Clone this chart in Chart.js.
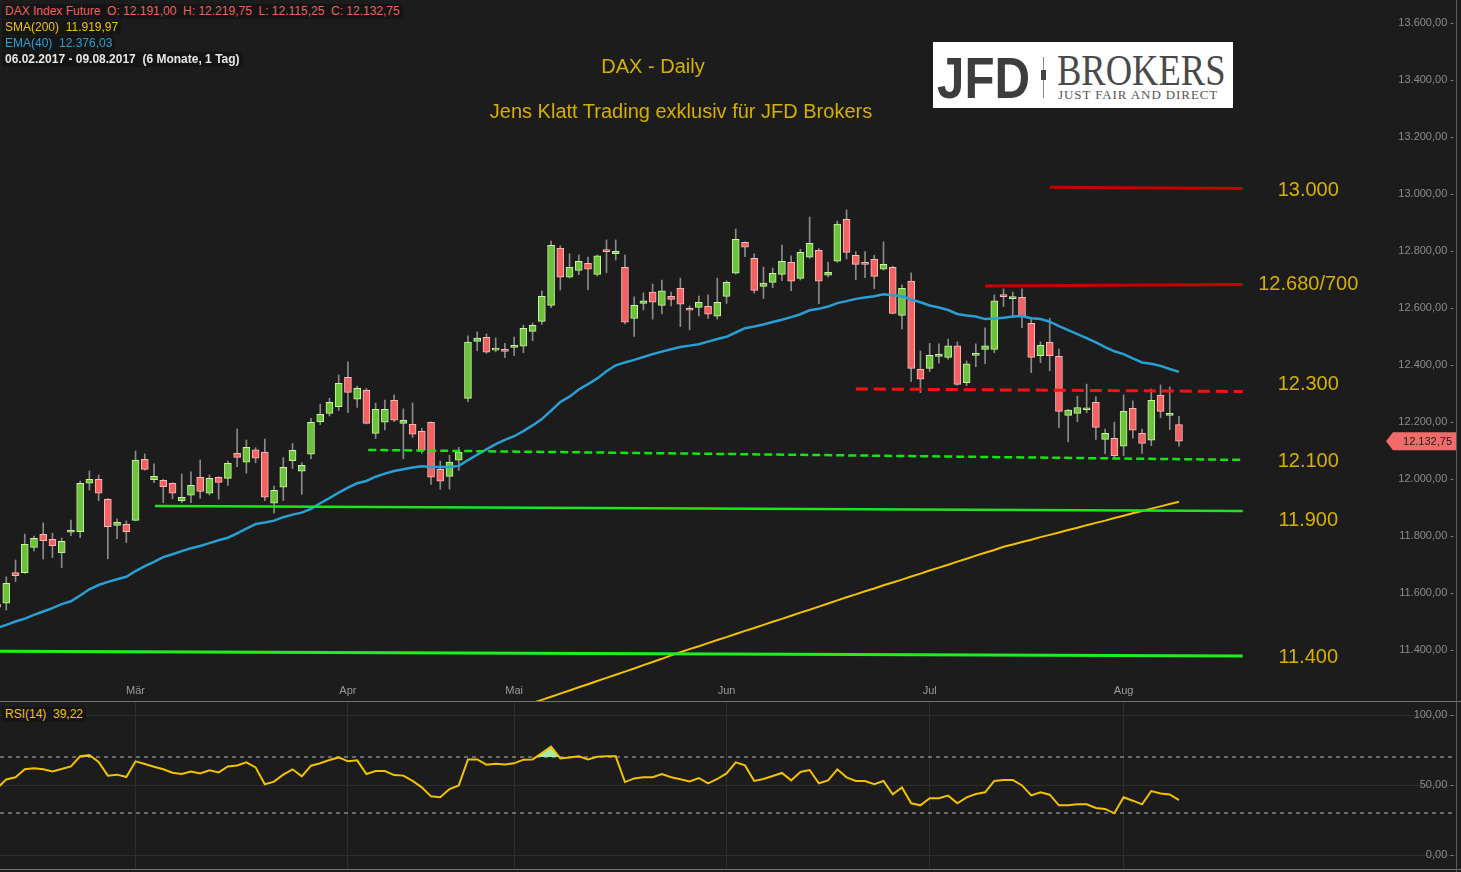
<!DOCTYPE html>
<html lang="de">
<head>
<meta charset="utf-8">
<title>DAX - Daily</title>
<script src="https://cdn.jsdelivr.net/npm/chart.js@4.4.1/dist/chart.umd.min.js"></script>
<style>
  html, body { margin: 0; padding: 0; background: #1c1c1c; }
  body { width: 1461px; height: 872px; position: relative; overflow: hidden; font-family: Arial, "Liberation Sans", sans-serif; }
  .pane { position: absolute; left: 0; width: 1461px; }
  #mainPane { top: 0; height: 701px; }
  #rsiPane { top: 702px; height: 168px; }
  .sep { position: absolute; left: 0; width: 1461px; height: 1px; background: #707070; }
  .vsep { position: absolute; top: 0; left: 1456px; width: 1px; height: 872px; background: #5c5c5c; }
  .legend { position: absolute; left: 2px; font-size: 12px; line-height: 15px; padding: 0 3px; background: #151515; white-space: pre; }
  .title { position: absolute; color: #d6b000; font-size: 20px; line-height: 23px; white-space: nowrap; transform: translateX(-50%); }
  #logo { position: absolute; left: 933px; top: 42px; width: 300px; height: 66px; background: #fff; overflow: hidden; }
  #logo span { position: absolute; white-space: nowrap; transform-origin: left top; }
  #logo .jfd { left: 4px; top: 7px; font: bold 58px/58px Arial, "Liberation Sans", sans-serif; color: #3d3d3d; transform: scaleX(0.85); }
  #logo .line { left: 110px; top: 15px; width: 1px; height: 41px; background: #8a8a8a; }
  #logo .blk { left: 108px; top: 28px; width: 5px; height: 10px; background: #444; }
  #logo .brk { left: 124px; top: 7px; font: 44px/44px "Liberation Serif", "DejaVu Serif", serif; color: #4a4a4a; transform: scaleX(0.83); }
  #logo .tag { left: 125px; top: 46px; font: 13px/13px "Liberation Serif", "DejaVu Serif", serif; letter-spacing: 0.9px; color: #555; }
</style>
</head>
<body>
<div id="mainPane" class="pane"><canvas id="mainChart" width="1461" height="701"></canvas></div>
<div id="rsiPane" class="pane"><canvas id="rsiChart" width="1461" height="168"></canvas></div>
<div class="sep" style="top:701px"></div>
<div class="sep" style="top:869px"></div>
<div class="vsep"></div>

<div class="legend" style="top:4px;color:#f06060">DAX Index Future  O: 12.191,00  H: 12.219,75  L: 12.115,25  C: 12.132,75</div>
<div class="legend" style="top:20px;color:#f2c200">SMA(200)  11.919,97</div>
<div class="legend" style="top:36px;color:#2a9fd6">EMA(40)  12.376,03</div>
<div class="legend" style="top:52px;color:#e6e6e6;font-weight:bold">06.02.2017 - 09.08.2017  (6 Monate, 1 Tag)</div>
<div class="legend" style="top:707px;color:#f2c200">RSI(14)  39,22</div>

<div class="title" style="left:653px;top:55px">DAX - Daily</div>
<div class="title" style="left:681px;top:100px">Jens Klatt Trading exklusiv für JFD Brokers</div>

<div id="logo">
  <span class="jfd">JFD</span>
  <span class="line"></span>
  <span class="blk"></span>
  <span class="brk">BROKERS</span>
  <span class="tag">JUST FAIR AND DIRECT</span>
</div>

<script>
// trading day index of the first candle (day 0 = 10.02.2017)
const firstDay = -1;

const opens = [
  11560, 11564, 11672, 11671, 11760, 11806, 11788, 11741, 11813, 11815, 11985,
  11999, 11929, 11837, 11841, 11855, 12069, 11998, 11995, 11985, 11924,
  11943, 12006, 11950, 12006, 12002, 12090, 12059, 12102, 12094, 11915,
  11971, 12064, 12027, 12087, 12201, 12230, 12254, 12357, 12280, 12311,
  12160, 12199, 12276, 12195, 12192, 12167, 12199, 12034, 12009, 12066,
  12283, 12483, 12497, 12452, 12453, 12462, 12466, 12518, 12553, 12609,
  12809, 12708, 12732, 12757, 12718, 12804, 12791, 12743, 12563, 12616,
  12656, 12609, 12641, 12669, 12597, 12602, 12606, 12571, 12641, 12722,
  12830, 12774, 12676, 12690, 12718, 12760, 12704, 12778, 12802, 12715,
  12764, 12911, 12785, 12760, 12771, 12736, 12743, 12574, 12694, 12385,
  12388, 12430, 12427, 12467, 12338, 12434, 12455, 12455, 12643, 12633,
  12637, 12546, 12433, 12480, 12430, 12223, 12230, 12243, 12269, 12139,
  12143, 12115, 12248, 12160, 12136, 12294, 12223, 12191
];
const highs = [
  11570, 11657, 11716, 11807, 11800, 11846, 11810, 11793, 11856, 11993, 12028,
  12014, 11932, 11860, 11853, 12098, 12088, 12053, 11999, 11987, 12018,
  12025, 12067, 12014, 12008, 12063, 12175, 12137, 12110, 12140, 11975,
  12075, 12125, 12057, 12213, 12263, 12283, 12365, 12411, 12326, 12318,
  12266, 12277, 12295, 12246, 12267, 12178, 12201, 12063, 12083, 12111,
  12502, 12516, 12509, 12495, 12476, 12498, 12540, 12547, 12660, 12835,
  12818, 12790, 12786, 12779, 12786, 12839, 12839, 12786, 12639, 12653,
  12684, 12698, 12656, 12705, 12607, 12642, 12646, 12705, 12695, 12877,
  12832, 12790, 12744, 12740, 12821, 12783, 12806, 12919, 12809, 12761,
  12905, 12944, 12798, 12798, 12785, 12832, 12747, 12681, 12723, 12449,
  12476, 12474, 12491, 12481, 12414, 12474, 12530, 12646, 12667, 12656,
  12667, 12560, 12481, 12564, 12456, 12244, 12291, 12333, 12288, 12175,
  12200, 12295, 12274, 12175, 12316, 12330, 12323, 12219.75
];
const lows = [
  11545, 11540, 11640, 11669, 11748, 11719, 11724, 11689, 11801, 11794, 11961,
  11924, 11720, 11791, 11777, 11853, 12031, 11987, 11917, 11930, 11917,
  11917, 11932, 11944, 11929, 11977, 12043, 12020, 12057, 11924, 11880,
  11924, 12037, 11946, 12071, 12191, 12221, 12240, 12233, 12251, 12193,
  12142, 12172, 12201, 12071, 12146, 12090, 11981, 11964, 11964, 12030,
  12271, 12450, 12441, 12446, 12426, 12433, 12443, 12485, 12542, 12601,
  12663, 12705, 12717, 12664, 12712, 12724, 12768, 12544, 12500, 12593,
  12561, 12579, 12607, 12535, 12523, 12572, 12563, 12561, 12616, 12719,
  12780, 12652, 12633, 12671, 12696, 12661, 12698, 12774, 12615, 12708,
  12760, 12772, 12699, 12706, 12668, 12733, 12579, 12527, 12342, 12303,
  12377, 12406, 12420, 12329, 12327, 12394, 12405, 12443, 12605, 12567,
  12531, 12373, 12408, 12380, 12180, 12130, 12201, 12233, 12139, 12089,
  12075, 12082, 12143, 12090, 12117, 12215, 12173, 12115.25
];
const closes = [
  11550, 11634, 11661, 11771, 11792, 11784, 11766, 11781, 11821, 11985, 11999,
  11950, 11833, 11848, 11815, 12066, 12034, 12009, 11973, 11950, 11936,
  11978, 11956, 12002, 11988, 12055, 12076, 12111, 12073, 11936, 11960,
  12041, 12101, 12048, 12199, 12227, 12269, 12336, 12304, 12318, 12195,
  12244, 12244, 12206, 12206, 12157, 12101, 12006, 11992, 12059, 12094,
  12480, 12494, 12445, 12456, 12448, 12467, 12529, 12539, 12641, 12820,
  12708, 12743, 12764, 12736, 12783, 12798, 12799, 12550, 12609, 12625,
  12620, 12660, 12630, 12613, 12592, 12620, 12578, 12620, 12690, 12841,
  12813, 12662, 12687, 12722, 12764, 12694, 12795, 12827, 12694, 12725,
  12894, 12795, 12753, 12753, 12711, 12753, 12581, 12669, 12388, 12350,
  12434, 12435, 12467, 12332, 12404, 12441, 12467, 12625, 12640, 12637,
  12570, 12427, 12469, 12433, 12237, 12242, 12251, 12249, 12181, 12160,
  12082, 12237, 12171, 12125, 12276, 12237, 12230, 12132.75
];

// EMA(40), same days as the candles
const ema40 = [
  11477, 11488, 11500, 11510, 11523, 11535, 11547, 11561, 11571, 11591, 11613,
  11628, 11639, 11648, 11657, 11677, 11694, 11709, 11726, 11736, 11747,
  11757, 11765, 11775, 11785, 11794, 11809, 11826, 11842, 11847, 11854,
  11866, 11875, 11882, 11895, 11915, 11933, 11952, 11970, 11985, 11993,
  12008, 12019, 12028, 12034, 12040, 12045, 12042, 12042, 12042, 12046,
  12066, 12085, 12104, 12122, 12137, 12150, 12168, 12188, 12210, 12240,
  12270, 12289, 12314, 12333, 12353, 12378, 12399, 12409, 12418, 12428,
  12438, 12447, 12455, 12463, 12468, 12473, 12482, 12491, 12499, 12514,
  12529, 12535, 12542, 12551, 12559, 12568, 12578, 12592, 12597, 12605,
  12617, 12624, 12632, 12637, 12641, 12648, 12645, 12641, 12630, 12620,
  12609, 12602, 12593, 12579, 12574, 12570, 12561, 12563, 12566, 12570,
  12572, 12564, 12561, 12552, 12536, 12522, 12508, 12494, 12479, 12463,
  12448, 12438, 12423, 12409, 12404, 12397, 12386, 12376.03
];

// SMA(200), visible part only, starting at day 55
const smaFirstDay = 55;
const sma200 = [
  11192, 11203, 11214, 11225, 11236, 11247, 11258, 11269, 11280, 11291,
  11302, 11313, 11324, 11335, 11347, 11358, 11369, 11381, 11392, 11403,
  11413, 11424, 11435, 11445, 11456, 11467, 11477, 11488, 11499, 11509,
  11520, 11531, 11541, 11552, 11563, 11574, 11585, 11595, 11606, 11616,
  11627, 11637, 11647, 11658, 11668, 11679, 11689, 11699, 11710, 11720,
  11731, 11741, 11751, 11762, 11770, 11779, 11787, 11796, 11804, 11812,
  11821, 11829, 11838, 11846, 11854, 11863, 11871, 11880, 11888, 11896,
  11904, 11912, 11919.97
];

// RSI(14), same days as the candles
const rsi14 = [
  47.6, 54.0, 55.5, 61.2, 61.9, 61.2, 59.7, 61.4, 63.3, 70.5, 71.4,
  66.4, 56.7, 57.4, 55.7, 66.9, 65.0, 63.1, 61.2, 58.8, 57.9,
  59.7, 58.3, 60.5, 59.0, 63.3, 64.0, 66.2, 62.6, 50.5, 52.4,
  57.4, 61.2, 56.2, 63.8, 65.5, 67.9, 69.7, 66.9, 67.6, 57.9,
  60.0, 60.0, 57.1, 56.7, 52.9, 48.3, 41.9, 41.2, 47.1, 49.7,
  68.3, 68.3, 64.5, 65.2, 64.7, 65.5, 68.1, 68.3, 72.9, 77.4,
  69.0, 69.7, 70.5, 68.3, 70.2, 70.5, 70.5, 52.1, 54.7, 55.5,
  55.5, 57.9, 55.5, 54.1, 52.6, 55.0, 51.2, 54.3, 58.3, 66.2,
  64.0, 52.9, 54.3, 56.4, 58.6, 53.3, 59.3, 60.7, 51.2, 53.3,
  61.2, 55.5, 52.9, 52.9, 50.5, 52.9, 43.3, 48.3, 36.9, 35.5,
  40.5, 40.5, 42.4, 36.9, 41.2, 43.6, 44.8, 52.9, 53.6, 53.6,
  49.7, 42.6, 44.8, 43.1, 35.5, 35.5, 36.2, 36.2, 33.6, 32.9,
  29.8, 41.2, 38.8, 36.2, 45.7, 44.0, 43.3, 39.22
];

const monthNames = ['Mär', 'Apr', 'Mai', 'Jun', 'Jul', 'Aug'];
const monthStartDay = [14, 37, 55, 78, 100, 121];

const priceTicks = [11400, 11600, 11800, 12000, 12200, 12400, 12600, 12800, 13000, 13200, 13400, 13600];
const rsiTicks = [0, 50, 100];
const rsiBands = [70, 30];

// drawn support / resistance lines
const levelNames = ['13.000', '12.680/700', '12.300', '12.100', '11.900', '11.400'];
const levelFromDay = [113, 106, 92, 39.2, 16.1, -0.7];
const levelToDay = [133.9, 133.9, 133.9, 133.9, 133.9, 133.9];
const levelStartVal = [13024, 12677, 12316, 12102, 11905, 11396];
const levelEndVal = [13019, 12682, 12307, 12067, 11888, 11379];
const levelLabelVal = [13014, 12684, 12333, 12063, 11856, 11372];
const levelLabelDay = 141;

// ---- view / style ----
const viewFrom = -0.68, viewTo = 157.0;
const FONT = 'Arial, "Liberation Sans", sans-serif';
const levelColor = ['#c80000', '#c80000', '#ff1010', '#12e612', '#1ee61e', '#1ef01e'];
const levelDash = [[], [], [12, 6], [8, 4], [], []];
const levelWidth = [3, 3, 3, 2.5, 2.5, 3];

function deNum(v) {
  const parts = v.toFixed(2).split('.');
  return parts[0].replace(/\B(?=(\d{3})+(?!\d))/g, '.') + ',' + parts[1];
}

const days = opens.map((_, k) => firstDay + k);
const isUp = k => closes[k] >= opens[k];

const mainOverlay = {
  id: 'mainOverlay',
  afterDatasetsDraw(chart) {
    const { ctx } = chart;
    const x = chart.scales.x, y = chart.scales.y;
    ctx.save();
    ctx.font = '20px ' + FONT;
    ctx.fillStyle = '#d6b000';
    ctx.textAlign = 'center';
    ctx.textBaseline = 'middle';
    levelNames.forEach((t, k) => {
      ctx.fillText(t, x.getPixelForValue(levelLabelDay), y.getPixelForValue(levelLabelVal[k]));
    });

    // month labels along the bottom of the price pane
    ctx.font = '11px ' + FONT;
    ctx.fillStyle = '#9a9a9a';
    monthNames.forEach((m, k) => {
      ctx.fillText(m, x.getPixelForValue(monthStartDay[k]), chart.chartArea.bottom - 10);
    });

    // last price tag
    const last = closes[closes.length - 1];
    const py = y.getPixelForValue(last);
    const right = chart.chartArea.right;
    ctx.fillStyle = '#f26b6b';
    ctx.beginPath();
    ctx.moveTo(right - 70, py);
    ctx.lineTo(right - 63, py - 9);
    ctx.lineTo(right, py - 9);
    ctx.lineTo(right, py + 9);
    ctx.lineTo(right - 63, py + 9);
    ctx.closePath();
    ctx.fill();
    ctx.fillStyle = '#1a1a1a';
    ctx.textAlign = 'right';
    ctx.fillText(deNum(last), right - 4, py + 1);
    ctx.restore();
  }
};

const levelSets = levelNames.map((n, k) => ({
  type: 'line',
  label: n,
  data: [{ x: levelFromDay[k], y: levelStartVal[k] }, { x: levelToDay[k], y: levelEndVal[k] }],
  borderColor: levelColor[k],
  borderDash: levelDash[k],
  borderWidth: levelWidth[k],
  pointRadius: 0,
  fill: false,
  order: 0
}));

new Chart(document.getElementById('mainChart'), {
  type: 'bar',
  data: {
    datasets: [
      {
        label: 'Docht',
        data: days.map((d, k) => ({ x: d, y: [lows[k], highs[k]] })),
        backgroundColor: '#8a8a8a',
        barThickness: 1,
        grouped: false,
        order: 5
      },
      {
        label: 'DAX Index Future',
        data: days.map((d, k) => ({ x: d, y: [opens[k], closes[k]] })),
        backgroundColor: days.map((d, k) => isUp(k) ? '#6cc23a' : '#f26262'),
        borderColor: days.map((d, k) => isUp(k) ? '#c8f5a0' : '#ffb8b8'),
        borderWidth: 1,
        borderSkipped: false,
        barThickness: 7,
        minBarLength: 2,
        grouped: false,
        order: 4
      },
      {
        type: 'line',
        label: 'SMA(200)',
        data: sma200.map((v, k) => ({ x: smaFirstDay + k, y: v })),
        borderColor: '#f2c200',
        borderWidth: 2,
        pointRadius: 0,
        fill: false,
        order: 2
      },
      {
        type: 'line',
        label: 'EMA(40)',
        data: ema40.map((v, k) => ({ x: firstDay + k, y: v })),
        borderColor: '#2a9fd6',
        borderWidth: 2.5,
        pointRadius: 0,
        fill: false,
        order: 1
      },
      ...levelSets
    ]
  },
  options: {
    responsive: false,
    animation: false,
    devicePixelRatio: 1,
    layout: { padding: 0 },
    plugins: { legend: { display: false }, tooltip: { enabled: false } },
    scales: {
      x: { type: 'linear', min: viewFrom, max: viewTo, offset: false, display: false },
      y: {
        type: 'linear',
        position: 'right',
        min: 11221,
        max: 13680.7,
        grid: { display: false, drawTicks: false },
        border: { display: false },
        ticks: {
          mirror: true,
          padding: -2,
          color: '#8c8c8c',
          font: { size: 11, family: FONT },
          callback: v => deNum(v) + ' -'
        },
        afterBuildTicks: s => { s.ticks = priceTicks.map(v => ({ value: v })); },
        afterFit: s => { s.width = 5; s.paddingTop = 0; s.paddingBottom = 0; }
      }
    }
  },
  plugins: [mainOverlay]
});

new Chart(document.getElementById('rsiChart'), {
  type: 'line',
  data: {
    datasets: [
      {
        label: 'RSI(14)',
        data: rsi14.map((v, k) => ({ x: firstDay + k, y: v })),
        borderColor: '#f2c200',
        borderWidth: 2,
        pointRadius: 0,
        fill: { target: { value: rsiBands[0] }, above: '#a4eaa4', below: 'rgba(0,0,0,0)' },
        order: 1
      },
      ...rsiBands.map(b => ({
        label: 'RSI ' + b,
        data: [{ x: viewFrom, y: b }, { x: viewTo, y: b }],
        borderColor: '#b4b4b4',
        borderWidth: 1,
        borderDash: [4, 4],
        pointRadius: 0,
        fill: false,
        order: 2
      }))
    ]
  },
  options: {
    responsive: false,
    animation: false,
    devicePixelRatio: 1,
    layout: { padding: 0 },
    plugins: { legend: { display: false }, tooltip: { enabled: false } },
    scales: {
      x: {
        type: 'linear', min: viewFrom, max: viewTo, offset: false,
        grid: { color: '#2e2e2e', drawTicks: false },
        border: { display: false },
        ticks: { display: false },
        afterBuildTicks: s => { s.ticks = monthStartDay.map(v => ({ value: v })); },
        afterFit: s => { s.height = 0; s.paddingLeft = 0; s.paddingRight = 0; }
      },
      y: {
        type: 'linear',
        position: 'right',
        min: -10.71,
        max: 109.29,
        grid: { color: '#2e2e2e', drawTicks: false },
        border: { display: false },
        ticks: {
          mirror: true,
          padding: -2,
          color: '#8c8c8c',
          font: { size: 11, family: FONT },
          callback: v => deNum(v) + ' -'
        },
        afterBuildTicks: s => { s.ticks = rsiTicks.map(v => ({ value: v })); },
        afterFit: s => { s.width = 5; s.paddingTop = 0; s.paddingBottom = 0; }
      }
    }
  }
});
</script>
</body>
</html>
